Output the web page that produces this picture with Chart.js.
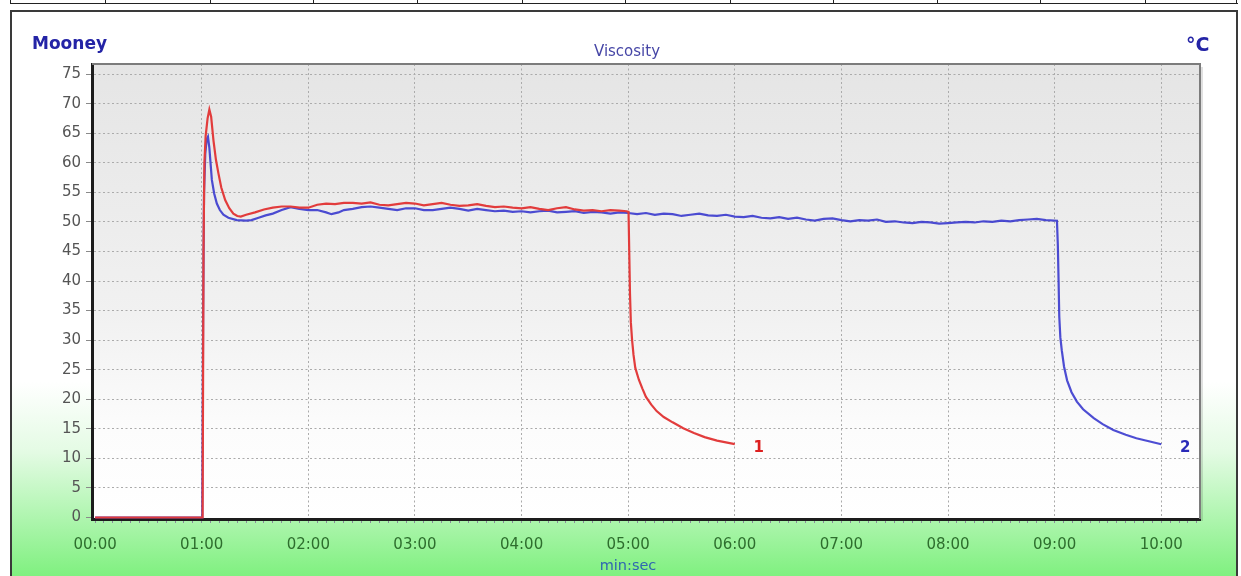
<!DOCTYPE html>
<html>
<head>
<meta charset="utf-8">
<script src="https://cdn.jsdelivr.net/npm/chart.js@4.4.1/dist/chart.umd.min.js"></script>
<style>
html,body{margin:0;padding:0;background:#fff;}
#wrap{position:relative;width:1241px;height:576px;overflow:hidden;background:#fff;}
#box{position:absolute;left:10px;top:10px;width:1228px;height:600px;box-sizing:border-box;border:2px solid #3a3a3a;
  background:linear-gradient(to bottom,#ffffff 0px,#ffffff 370px,#e4fbe4 440px,#7ef07e 566px);}
#strip{position:absolute;left:10px;top:0;width:1228px;height:3px;border-bottom:1.5px solid #222;}
.cell{position:absolute;top:0;height:4px;border-left:1.5px solid #222;}
canvas{position:absolute;left:0;top:0;}
.t{position:absolute;font-family:"DejaVu Sans",sans-serif;white-space:nowrap;line-height:1;}
</style>
</head>
<body>
<div id="wrap">
  <div id="strip"></div>
  <div id="box"></div>
  <canvas id="c" width="1241" height="576"></canvas>
  <div class="t" style="left:32px;top:35px;font-size:17px;font-weight:bold;color:#2424a6;">Mooney</div>
  <div class="t" style="left:1186px;top:35px;font-size:19px;font-weight:bold;color:#2424a6;">°C</div>
  <div class="t" style="left:627px;top:44px;font-size:15px;color:#4646a6;transform:translateX(-50%);">Viscosity</div>
  <div class="t" style="left:628px;top:558px;font-size:14.5px;color:#2f66b0;transform:translateX(-50%);">min:sec</div>
</div>
<script>
// ---- data (time in seconds, Mooney values) ----
const redTime = [0,60.5,61,61.5,62.2,63.3,64.3,65.3,66.6,68,69.4,71,73.2,75.5,77.8,80,82,85,90,95,100,105,110,115,120,125,130,135,140,145,150,155,160,165,170,175,180,185,190,195,200,205,210,215,220,225,230,235,240,245,250,255,260,265,270,275,280,285,290,295,299,300.2,301,301.5,302.2,303,304,306,308,310,313,316,320,325,331,337,343,350,355,360];
const redMooney = [0,0,45,60,64.5,67.5,69.0,67.8,63.8,60.5,58.2,55.8,53.7,52.3,51.4,51.0,50.9,51.2,51.6,52.1,52.4,52.6,52.6,52.4,52.4,52.9,53.1,53.0,53.2,53.2,53.1,53.3,52.9,52.8,53.0,53.2,53.1,52.8,53.0,53.2,52.9,52.7,52.8,53.0,52.7,52.5,52.6,52.4,52.3,52.5,52.2,52.0,52.3,52.5,52.1,51.9,52.0,51.8,52.0,51.9,51.8,51.7,38,33,30,27.5,25.3,23.3,21.8,20.4,19.1,18.0,17.0,16.1,15.1,14.3,13.6,13.0,12.7,12.4];

const blueTime = [0,60.3,60.8,61.3,62,62.8,63.5,64.3,65,65.7,67,68.5,70.2,72.2,75,79.7,85,88,92,96,100,105,110,115,120,125,130,133,137,140,145,150,155,160,165,170,175,180,185,190,195,200,205,210,215,220,225,230,235,240,245,250,255,260,265,270,275,280,285,290,295,300,305,310,315,320,325,330,335,340,345,350,355,360,365,370,375,380,385,390,395,400,405,410,415,420,425,430,435,440,445,450,455,460,465,470,475,480,485,490,495,500,505,510,515,520,525,530,535,541.3,541.8,542.2,542.6,543.2,544,545.3,547,549.5,552.5,556,562,567,573,580,586,593,600];
const blueMooney = [0,0,35,55,61.5,64,64.4,62.5,59.8,57.1,54.8,53.1,52.0,51.2,50.7,50.3,50.2,50.3,50.7,51.1,51.4,52.0,52.5,52.2,52.0,52.0,51.6,51.3,51.6,52.0,52.2,52.5,52.6,52.4,52.2,52.0,52.3,52.3,52.0,52.0,52.2,52.4,52.2,51.9,52.2,52.0,51.8,51.9,51.7,51.8,51.6,51.8,51.9,51.6,51.7,51.8,51.5,51.7,51.6,51.4,51.6,51.5,51.3,51.5,51.2,51.4,51.3,51.0,51.2,51.4,51.1,51.0,51.2,50.9,50.8,51.0,50.7,50.6,50.8,50.5,50.7,50.4,50.2,50.5,50.6,50.3,50.1,50.3,50.2,50.4,50.0,50.1,49.9,49.8,50.0,49.9,49.7,49.8,49.9,50.0,49.9,50.1,50.0,50.2,50.1,50.3,50.4,50.5,50.3,50.2,46,40.2,34,30.5,28.3,25.5,23.2,21.2,19.6,18.3,16.8,15.8,14.8,14.0,13.4,12.9,12.4];

const xTickLabels = ['00:00','01:00','02:00','03:00','04:00','05:00','06:00','07:00','08:00','09:00','10:00'];
const yTickValues = [0,5,10,15,20,25,30,35,40,45,50,55,60,65,70,75];
const seriesNames = ['1','2'];

// build strip cells
const cellX = [0,95,200,303,407,512,615,720,823,927,1030,1135,1226];
const strip = document.getElementById('strip');
cellX.forEach(x=>{const d=document.createElement('div');d.className='cell';d.style.left=x+'px';strip.appendChild(d);});

const toPts = (ts, vs) => ts.map((t,i)=>({x:t,y:vs[i]}));

// x ticks: every 5 s (minor), labelled every minute
const xTickValues = [];
for (let s = 0; s <= 620; s += 5) xTickValues.push(s);

const isMinute = v => v > 0 && v % 60 === 0;

const plotDecor = {
  id:'plotDecor',
  beforeDraw(chart){
    const {ctx, chartArea:a} = chart;
    const g = ctx.createLinearGradient(0,a.top,0,a.bottom);
    g.addColorStop(0,'#e5e5e5');
    g.addColorStop(0.55,'#f1f1f1');
    g.addColorStop(0.8,'#fcfcfc');
    g.addColorStop(1,'#ffffff');
    ctx.save();
    ctx.fillStyle = g;
    ctx.fillRect(a.left,a.top,a.right-a.left,a.bottom-a.top);
    ctx.restore();
  },
  beforeDatasetsDraw(chart){
    const {ctx, chartArea:a} = chart;
    ctx.save();
    ctx.strokeStyle = '#7c7c7c';
    ctx.lineWidth = 2;
    ctx.beginPath();
    ctx.moveTo(a.left, a.top);
    ctx.lineTo(a.right, a.top);
    ctx.lineTo(a.right, a.bottom);
    ctx.stroke();
    ctx.strokeStyle = 'rgba(0,0,0,0.12)';
    ctx.lineWidth = 2;
    ctx.beginPath();
    ctx.moveTo(a.right+2, a.top+3);
    ctx.lineTo(a.right+2, a.bottom+2);
    ctx.stroke();
    ctx.restore();
  },
  afterDatasetsDraw(chart){
    const {ctx} = chart;
    ctx.save();
    ctx.font = 'bold 15px "DejaVu Sans"';
    ctx.textAlign = 'center';
    ctx.textBaseline = 'middle';
    chart.data.datasets.forEach((ds,i)=>{
      const meta = chart.getDatasetMeta(i);
      const last = meta.data[meta.data.length-1];
      ctx.fillStyle = ds.labelColor;
      ctx.fillText(ds.label, last.x + 24, last.y + 4);
    });
    ctx.restore();
  }
};

new Chart(document.getElementById('c'), {
  type:'line',
  data:{
    datasets:[
      {label:seriesNames[0], data:toPts(redTime,redMooney), borderColor:'#e23c3c', labelColor:'#dd2020', borderWidth:2.2, pointRadius:0, tension:0},
      {label:seriesNames[1], data:toPts(blueTime,blueMooney), borderColor:'rgba(52,52,205,0.88)', labelColor:'#2a2ab8', borderWidth:2.2, pointRadius:0, tension:0}
    ]
  },
  options:{
    responsive:false,
    animation:false,
    events:[],
    layout:{padding:{left:0,top:64,right:41,bottom:0}},
    plugins:{legend:{display:false}, title:{display:false}, tooltip:{enabled:false}},
    scales:{
      x:{
        type:'linear', min:-1.75, max:621.8,
        afterBuildTicks:(s)=>{ s.ticks = xTickValues.map(v=>({value:v})); },
        ticks:{autoSkip:false, maxRotation:0, minRotation:0, padding:13,
          color:'#2e6e2e', font:{family:'DejaVu Sans', size:15},
          callback:(v)=> (v % 60 === 0) ? xTickLabels[v/60] : ''},
        grid:{
          color:(c)=> isMinute(c.tick.value) ? '#ababab' : 'rgba(0,0,0,0)',
          lineWidth:1,
          tickLength:4,
          tickColor:'#8a8a9a'
        },
        border:{display:true, color:'#1c1c1c', width:3, dash:[2,2.5]},
        afterFit:(s)=>{ s.height = 57; }
      },
      y:{
        type:'linear', min:-0.25, max:76.7,
        afterBuildTicks:(s)=>{ s.ticks = yTickValues.map(v=>({value:v})); },
        ticks:{padding:5, color:'#555555', font:{family:'DejaVu Sans', size:15},
          callback:(v)=> String(v)},
        grid:{
          color:(c)=> c.tick.value > 0 ? '#ababab' : 'rgba(0,0,0,0)',
          lineWidth:1,
          tickLength:6,
          tickColor:'#8a8a8a'
        },
        border:{display:true, color:'#1c1c1c', width:3, dash:[2,2.5]},
        afterFit:(s)=>{ s.width = 92; }
      }
    }
  },
  plugins:[plotDecor]
});
</script>
</body>
</html>
